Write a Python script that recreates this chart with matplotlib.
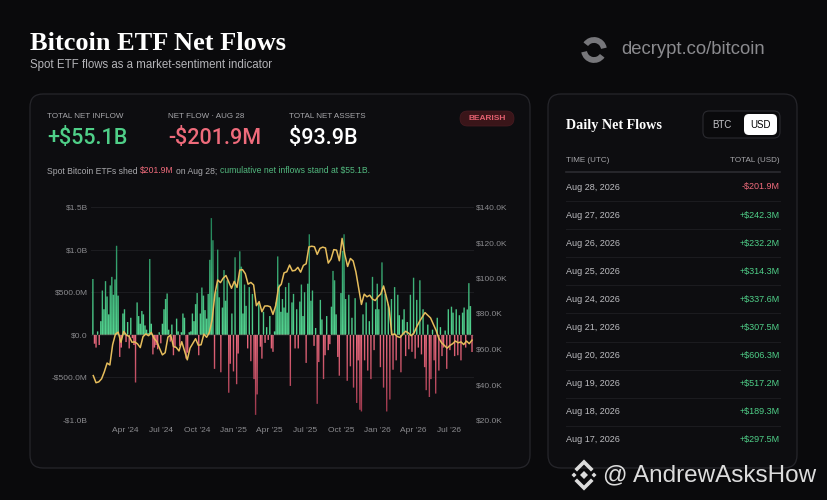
import numpy as np
import pandas as pd
import matplotlib
matplotlib.use("Agg")
import matplotlib.pyplot as plt
import matplotlib.dates as mdates
from matplotlib.patches import FancyBboxPatch, PathPatch, Arc, Polygon
from matplotlib.path import Path
from matplotlib.offsetbox import TextArea, HPacker, AnnotationBbox

# daily net flows in $M, one bar every 4 days ending Aug 28, 2026
flows = [
    655, -105, -150, 40, -120, 160, 520, 300, 630, 450,
    240, 580, 680, 470, 650, 1045, 460, -260, -150, 250,
    300, -85, 150, -160, 200, -40, -120, -560, 380, 220,
    130, 280, 240, 110, 60, 20, 890, 130, -230, -150,
    -120, -170, 30, -100, 130, 300, 420, 485, 60, -80,
    120, -240, -150, 190, 40, -130, 30, 250, 200, -280,
    -210, 30, 40, 250, 160, 360, 490, -240, 250, 555,
    460, 290, 190, 480, 880, 1370, 1110, -400, 510, 1000,
    440, -440, 320, 760, 400, 640, -680, -340, 250, -430,
    910, -580, -220, 980, 800, 250, 590, 340, -160, 560,
    -310, 480, -520, -940, -700, 380, -140, -280, 270, -95,
    90, -60, 220, -160, -200, 40, 380, 920, 590, 270,
    420, 320, 560, 260, 610, -600, 380, 480, -160, 300,
    -160, 390, 590, 220, 500, -330, 600, 1180, 400, 520,
    -130, 80, -810, -320, 410, 180, -520, -240, 220, -180,
    -110, 330, 750, 640, 240, -260, -480, 490, 985, 1180,
    420, -540, 470, -370, 200, -620, 430, -800, -300, -880,
    -900, 240, -300, 380, -420, 160, -520, 680, -180, 300,
    600, 300, -380, 850, -620, 480, -900, 360, -760, 420,
    -410, 560, -300, 470, 230, -440, 180, 300, -250, 150,
    -170, 470, -200, 670, -280, 410, -150, 640, -230, 300,
    -380, -650, 120, -730, -520, 60, -300, -690, 200, -420,
    90, -250, -150, 50, -400, 300, -180, 330, 260, -250,
    300, -240, 230, -300, 260, 320, -150, 297.5, 606.3, 337.6,
    -201.9,
]

# BTC price in $K, weekly, ending Aug 28, 2026
price = [
    45.0, 41.0, 41.5, 43.2, 47.2, 52.1, 51.0, 62.4, 68.3, 69.5, 63.8, 69.9,
    67.8, 67.1, 63.8, 64.0, 62.9, 60.8, 67.0, 68.5, 67.5, 69.3, 66.0, 64.1,
    60.3, 56.7, 57.9, 66.7, 67.9, 61.4, 60.9, 58.9, 64.1, 59.0, 53.9, 60.5,
    63.2, 65.8, 62.1, 62.4, 68.4, 66.6, 69.4, 76.6, 91.1, 98.9, 97.4, 99.9,
    101.4, 97.8, 94.2,
    98.1, 94.7, 104.5, 104.7, 102.4, 96.5, 97.5, 96.1, 84.4, 86.7, 81.0, 84.2,
    84.3, 83.8, 79.5, 84.5, 94.6, 96.5, 102.9, 103.5, 107.3, 104.0, 104.3, 106.0,
    103.3, 107.1, 108.0, 117.5, 117.9, 117.6, 113.3, 116.7, 117.4, 116.9, 108.4, 110.7,
    116.0, 115.7, 109.7, 122.3, 113.2, 106.5, 111.0, 109.6, 103.4, 94.4, 85.1, 90.9,
    89.4, 90.3, 88.1, 87.3,
    89.5, 91.0, 95.5, 89.5, 83.0, 68.0, 68.5, 67.0, 66.5, 68.5, 70.0, 69.0,
    67.5, 69.0, 72.5, 75.5, 78.0, 80.5, 79.0, 77.5, 74.0, 70.5, 66.0, 63.5,
    62.0, 60.5, 62.0, 63.0, 64.5, 63.5, 64.0, 62.5, 64.5, 63.0, 65.0,
]

left_ticks = [-1000, -500, 0, 500, 1000, 1500]
left_labels = ["-$1.0B", "-$500.0M", "$0.0", "$500.0M", "$1.0B", "$1.5B"]
right_ticks = [20, 40, 60, 80, 100, 120, 140]
right_labels = ["$20.0K", "$40.0K", "$60.0K", "$80.0K", "$100.0K", "$120.0K", "$140.0K"]

stat_labels = ["TOTAL NET INFLOW", "NET FLOW \u00b7 AUG 28", "TOTAL NET ASSETS"]
stat_values = ["+$55.1B", "-$201.9M", "$93.9B"]

table_dates = ["Aug 28, 2026", "Aug 27, 2026", "Aug 26, 2026", "Aug 25, 2026",
               "Aug 24, 2026", "Aug 21, 2026", "Aug 20, 2026", "Aug 19, 2026",
               "Aug 18, 2026", "Aug 17, 2026"]
table_values = [-201.9, 242.3, 232.2, 314.3, 337.6, 307.5, 606.3, 517.2, 189.3, 297.5]

BG = "#0a0a0c"
GREEN = "#4fcf88"
RED = "#ef6b7b"
GREY = "#8b8b8f"
plt.rcParams["font.family"] = ["Liberation Sans", "DejaVu Sans"]

W, H = 828, 500
fig = plt.figure(figsize=(W / 100, H / 100), dpi=100)
fig.patch.set_facecolor(BG)

# pixel-coordinate layer for cards and text
bg = fig.add_axes([0, 0, 1, 1], zorder=0)
bg.set_xlim(0, W)
bg.set_ylim(H, 0)
bg.axis("off")

for x0, w in [(30, 500), (548, 249)]:
    bg.add_patch(FancyBboxPatch((x0, 94), w, 374, boxstyle="round,pad=0,rounding_size=13",
                                fc="#0d0d10", ec="#26262b", lw=0.9))

bg.text(30, 43, "Bitcoin ETF Net Flows", family="Liberation Serif", weight="bold",
        fontsize=19, color="white", va="center")
bg.text(30, 65, "Spot ETF flows as a market-sentiment indicator", fontsize=8.3,
        color="#b4b4b8", va="center")

# decrypt logo + link
bg.add_patch(Arc((594, 50), 20, 20, theta1=35, theta2=170, lw=4.2, color="#77777b"))
bg.add_patch(Arc((594, 50), 20, 20, theta1=215, theta2=350, lw=4.2, color="#77777b"))
bg.text(621, 50, "decrypt.co/bitcoin", fontsize=13.3, color=GREY, va="center")

# stats row
for i, (lab, val) in enumerate(zip(stat_labels, stat_values)):
    x = 47 + i * 121
    bg.text(x, 116, lab, fontsize=5.8, color="#a8a8ac", va="center")
    col = [GREEN, RED, "white"][i]
    bg.text(x, 139, val, family=["Roboto", "Liberation Sans"], weight="medium",
            fontsize=15.5, color=col, va="center")

bg.add_patch(FancyBboxPatch((460, 111), 54, 15, boxstyle="round,pad=0,rounding_size=7.5",
                            fc="#3a1519", ec="#4a1c22", lw=0.5))
bg.text(487, 118.7, "BEARISH", fontsize=6, color="#e2606f", weight="bold",
        ha="center", va="center")

parts = [("Spot Bitcoin ETFs shed", "#a8a8ac"), ("$201.9M", RED), ("on Aug 28;", "#a8a8ac"),
         ("cumulative net inflows stand at $55.1B.", "#52b97f")]
pack = HPacker(children=[TextArea(s, textprops=dict(color=c, fontsize=6.2)) for s, c in parts],
               sep=1.7, pad=0, align="baseline")
bg.add_artist(AnnotationBbox(pack, (47, 171), xycoords="data", box_alignment=(0, 0.5),
                             frameon=False, pad=0))

# chart
ax = fig.add_axes([91.3 / W, 80 / H, (473.6 - 91.3) / W, 213 / H], zorder=2)
ax.patch.set_alpha(0)
fdates = pd.date_range(end="2026-08-28", periods=len(flows), freq="4D")
xs = mdates.date2num(fdates)
bw = 3.5
rects = [Path([(x - bw / 2, 0), (x + bw / 2, 0), (x + bw / 2, v), (x - bw / 2, v), (x - bw / 2, 0)],
              closed=True) for x, v in zip(xs, flows)]
bars_path = Path.make_compound_path(*rects)

yy = np.linspace(-1000, 1500, 800)
g_lo, g_hi = np.array([0.33, 0.84, 0.57]), np.array([0.11, 0.47, 0.32])
r_lo, r_hi = np.array([0.93, 0.42, 0.50]), np.array([0.58, 0.20, 0.28])
tg = np.clip(yy / 1500, 0, 1)[:, None]
tr = np.clip(-yy / 1000, 0, 1)[:, None]
cols = np.where(yy[:, None] >= 0, g_lo + (g_hi - g_lo) * tg, r_lo + (r_hi - r_lo) * tr)
img = np.concatenate([cols, np.ones((len(yy), 1))], axis=1)[:, None, :]
im = ax.imshow(img, extent=[xs[0] - 5, xs[-1] + 5, -1000, 1500], origin="lower",
               aspect="auto", interpolation="bilinear", zorder=2)
clip = PathPatch(bars_path, transform=ax.transData, fc="none", ec="none")
im.set_clip_path(clip)

ax.set_xlim(mdates.date2num(pd.Timestamp("2024-01-07")), mdates.date2num(pd.Timestamp("2026-09-01")))
ax.set_ylim(-1000, 1500)
ax.set_yticks(left_ticks)
ax.set_yticklabels(left_labels)
ax.grid(axis="y", color="#1c1c20", lw=0.8)
ax.set_axisbelow(True)
ax.xaxis.set_major_locator(mdates.MonthLocator(bymonth=[1, 4, 7, 10]))
ax.xaxis.set_major_formatter(mdates.DateFormatter("%b '%y"))
ax.tick_params(length=0, labelsize=6, labelcolor=GREY)
ax.tick_params(axis="y", pad=2.5)
ax.tick_params(axis="x", pad=5)
for s in ax.spines.values():
    s.set_visible(False)

ax2 = ax.twinx()
ax2.set_zorder(3)
pdates = pd.date_range(end="2026-08-28", periods=len(price), freq="7D")
ax2.plot(pdates, price, color="#e6bd5c", lw=1.1, solid_joinstyle="round")
ax2.set_ylim(20, 140)
ax2.set_yticks(right_ticks)
ax2.set_yticklabels(right_labels)
ax2.tick_params(length=0, labelsize=6, labelcolor=GREY, pad=2)
for s in ax2.spines.values():
    s.set_visible(False)

# right panel: daily table
bg.text(566, 125, "Daily Net Flows", family="Liberation Serif", weight="bold",
        fontsize=10.2, color="white", va="center")
bg.add_patch(FancyBboxPatch((703, 111), 77, 27, boxstyle="round,pad=0,rounding_size=6",
                            fc="#0a0a0c", ec="#2a2a2f", lw=0.8))
bg.add_patch(FancyBboxPatch((744, 114), 33, 21, boxstyle="round,pad=0,rounding_size=5",
                            fc="white", ec="none"))
bg.text(722, 124.5, "BTC", fontsize=7, color="#c4c4c8", ha="center", va="center")
bg.text(760.5, 124.5, "USD", fontsize=7, color="black", ha="center", va="center")

bg.text(566, 161, "TIME (UTC)", fontsize=5.8, color="#a8a8ac", va="center")
bg.text(780, 161, "TOTAL (USD)", fontsize=5.8, color="#a8a8ac", va="center", ha="right")
bg.plot([566, 780], [171.5, 171.5], color="#2c2c31", lw=1.2)
for i, (d, v) in enumerate(zip(table_dates, table_values)):
    y = 187 + i * 28.1
    bg.text(566, y, d, fontsize=6.5, color="#bdbdc1", va="center")
    txt = ("+" if v > 0 else "-") + "$%.1fM" % abs(v)
    bg.text(780, y, txt, fontsize=6.5, color=GREEN if v > 0 else RED, va="center", ha="right")
    if i < len(table_dates) - 1:
        bg.plot([566, 780], [y + 14, y + 14], color="#1b1b1f", lw=0.8)

# watermark (binance-style mark + handle)
cx, cy = 584, 475
wm = "#dcdcdc"
bg.add_patch(Polygon([(cx, cy - 4), (cx + 4, cy), (cx, cy + 4), (cx - 4, cy)], fc=wm, ec="none"))
for dx in (-10, 10):
    bg.add_patch(Polygon([(cx + dx, cy - 2.5), (cx + dx + 2.5, cy), (cx + dx, cy + 2.5),
                          (cx + dx - 2.5, cy)], fc=wm, ec="none"))
bg.plot([cx - 7, cx, cx + 7], [cy - 6, cy - 13, cy - 6], color=wm, lw=2.6, solid_joinstyle="miter")
bg.plot([cx - 7, cx, cx + 7], [cy + 6, cy + 13, cy + 6], color=wm, lw=2.6, solid_joinstyle="miter")
bg.text(603, cy, "@ AndrewAsksHow", fontsize=17.5, color=wm, va="center")

fig.savefig("out.png", dpi=100, facecolor=fig.get_facecolor())
